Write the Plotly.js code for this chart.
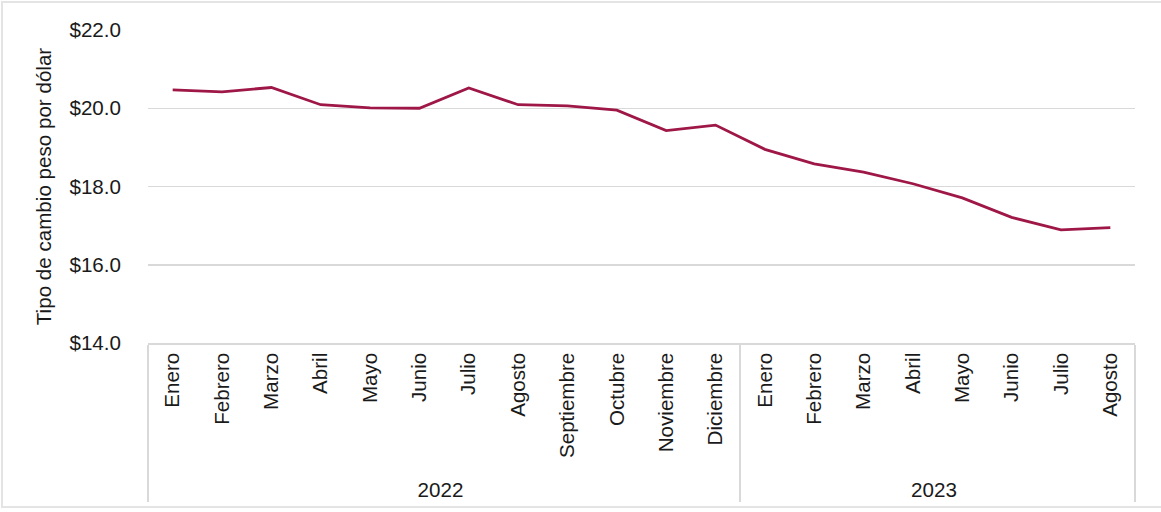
<!DOCTYPE html>
<html>
<head>
<meta charset="utf-8">
<script src="https://cdn.plot.ly/plotly-3.0.1.min.js"></script>
<style>
  html, body { margin: 0; padding: 0; background: #fff; }
  #wrap { position: relative; width: 1161px; height: 512px; overflow: hidden; }
  #chart { width: 1161px; height: 512px; }
  #frame { position: absolute; left: 1px; top: 1px; width: 1200px; height: 507px;
           border: 2px solid #e4e4e4; pointer-events: none; box-sizing: border-box; }
</style>
</head>
<body>
<div id="wrap">
  <div id="chart"></div>
  <div id="frame"></div>
</div>
<script>
// Data
const years = ["2022","2022","2022","2022","2022","2022","2022","2022","2022","2022","2022","2022",
               "2023","2023","2023","2023","2023","2023","2023","2023"];
const months = ["Enero","Febrero","Marzo","Abril","Mayo","Junio","Julio","Agosto","Septiembre","Octubre","Noviembre","Diciembre",
                "Enero","Febrero","Marzo","Abril","Mayo","Junio","Julio","Agosto"];
const exchangeRate = [20.47, 20.42, 20.53, 20.09, 20.01, 20.00, 20.52, 20.09, 20.06, 19.95, 19.43, 19.57,
                      18.95, 18.58, 18.37, 18.07, 17.71, 17.21, 16.89, 16.95];
const yTitle = "Tipo de cambio peso por dólar";

const FONT = "Liberation Sans, Arial, Helvetica, sans-serif";
const TXT = "#1a1a1a";
const GRID = "#d9d9d9";
const FS = 20.6;

const trace = {
  type: "scatter",
  mode: "lines",
  x: [years, months],
  y: exchangeRate,
  line: { color: "#9E1747", width: 2.8 },
  hoverinfo: "y"
};

const layout = {
  width: 1161,
  height: 512,
  margin: { l: 148, r: 26, t: 30, b: 169, pad: 0 },
  paper_bgcolor: "rgba(0,0,0,0)",
  plot_bgcolor: "#ffffff",
  showlegend: false,
  font: { family: FONT, size: FS, color: TXT },
  xaxis: {
    type: "multicategory",
    range: [-0.5, 19.5],
    tickangle: -90,
    tickfont: { family: FONT, size: FS, color: TXT },
    showgrid: false,
    showline: true,
    linecolor: GRID,
    linewidth: 1.5,
    ticks: "",
    showdividers: true,
    dividercolor: GRID,
    dividerwidth: 1.5,
    automargin: false,
    fixedrange: true
  },
  yaxis: {
    range: [14, 22],
    dtick: 2,
    tick0: 14,
    tickprefix: "$",
    tickformat: ".1f",
    tickfont: { family: FONT, size: FS, color: TXT },
    showgrid: true,
    gridcolor: GRID,
    gridwidth: 1.5,
    zeroline: false,
    showline: false,
    ticks: "",
    ticklabelstandoff: 26,
    automargin: false,
    fixedrange: true,
    title: { text: yTitle, font: { family: FONT, size: FS, color: TXT }, standoff: 12 }
  }
};

Plotly.newPlot("chart", [trace], layout, { displayModeBar: false, staticPlot: true });
</script>
</body>
</html>
